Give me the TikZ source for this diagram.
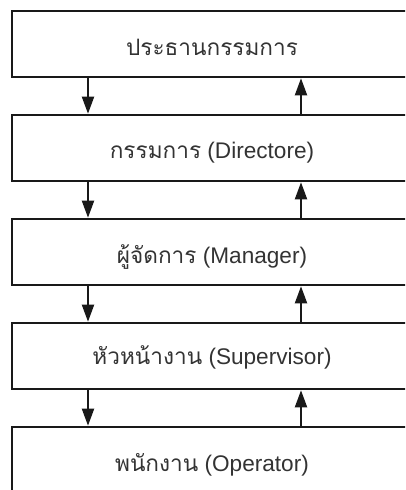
\documentclass[tikz,border=0pt]{standalone}
\usepackage{fontspec}
\setmainfont{Liberation Sans}
\newfontfamily\thai[Script=Thai]{Loma}
\usetikzlibrary{arrows.meta}
\tikzset{
  orgbox/.style={draw=black!90, line width=2.6pt, minimum width=400pt, minimum height=66pt, inner sep=0pt, text=black!80, font=\fontsize{22.6}{27}\selectfont, text height=22pt, text depth=0pt},
  arr/.style={line width=2pt, draw=black!90, -{Triangle[length=17pt,width=12pt]}, shorten >=0pt}
}
\begin{document}
\begin{tikzpicture}[x=1pt,y=-1pt]
\useasboundingbox (0,0) rectangle (405,490);
\clip (0,0) rectangle (405,490);
\node[orgbox] (b1) at (212,44) {\thai ประธานกรรมการ};
\node[orgbox, text height=20pt] (b2) at (212,148) {\thai กรรมการ\rmfamily{} (Directore)};
\node[orgbox] (b3) at (212,252) {\thai ผู้จัดการ\rmfamily{} (Manager)};
\node[orgbox, text height=16pt] (b4) at (212,356) {\thai หัวหน้างาน\rmfamily{} (Supervisor)};
\node[orgbox] (b5) at (212,460) {\thai พนักงาน\rmfamily{} (Operator)};
\coordinate (dn) at (88,0);
\coordinate (up) at (301,0);
\draw[arr] (b1.south -| dn) -- (b2.north -| dn);
\draw[arr] (b2.north -| up) -- (b1.south -| up);
\draw[arr] (b2.south -| dn) -- (b3.north -| dn);
\draw[arr] (b3.north -| up) -- (b2.south -| up);
\draw[arr] (b3.south -| dn) -- (b4.north -| dn);
\draw[arr] (b4.north -| up) -- (b3.south -| up);
\draw[arr] (b4.south -| dn) -- (b5.north -| dn);
\draw[arr] (b5.north -| up) -- (b4.south -| up);
\end{tikzpicture}
\end{document}
